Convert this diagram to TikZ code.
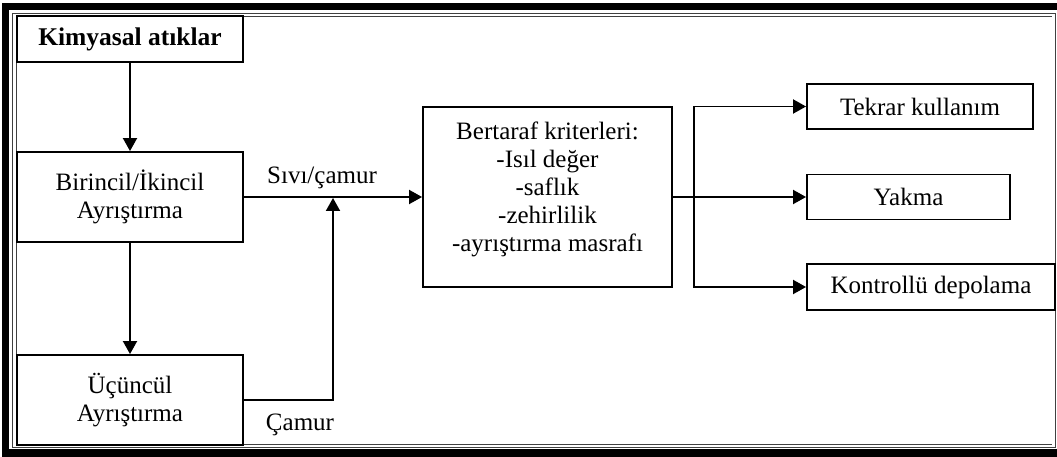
\documentclass[tikz,border=0pt]{standalone}
\usepackage{fontspec}
\setmainfont{Liberation Serif}
\usetikzlibrary{arrows.meta}
\begin{document}
\begin{tikzpicture}[x=1pt,y=-1pt,
  txt/.style={font=\fontsize{25}{28}\selectfont, inner sep=0pt},
  box/.style={txt, draw, line width=1.9pt, align=center},
  arr/.style={line width=1.9pt, -{Triangle[length=13pt,width=14pt]}},
  ln/.style={line width=1.9pt}]
\useasboundingbox (0,0) rectangle (1057,457);

% page frame: heavy outer band and thin inner rules
\fill (2,3) rectangle (9,457);
\fill (2,3) rectangle (1057,10);
\fill (2,449) rectangle (1057,457);
\draw[line width=1.2pt, black!75] (12.5,13.5) rectangle (1055.5,447.5);
\draw[line width=1pt, black!75] (1052,16.5) -- (16,16.5) -- (16,444.5) -- (1052,444.5);

% process boxes
\node[box, minimum width=226pt, minimum height=46pt, font=\fontsize{25.5}{28}\selectfont\bfseries] (kim) at (130,39) {Kimyasal atıklar};
\node[box, minimum width=226pt, minimum height=90pt] (bir) at (130,197) {Birincil/İkincil\\Ayrıştırma};
\node[box, minimum width=226pt, minimum height=90pt] (ucu) at (130,400) {Üçüncül\\Ayrıştırma};
\node[box, minimum width=249pt, minimum height=180pt] (ber) at (547.5,197) {};
\node[txt, align=center] (bertxt) at (547.5,189) {Bertaraf kriterleri:\\-Isıl değer\\-saflık\\-zehirlilik\\-ayrıştırma masrafı};
\node[box, minimum width=226pt, minimum height=45pt] (tek) at (920,106.5) {Tekrar kullanım};
\node[box, minimum width=203pt, minimum height=45pt] (yak) at (908.5,197) {Yakma};
\node[box, minimum width=248pt, minimum height=46pt] (kon) at (931,287) {Kontrollü depolama};

% labels on the flows
\node[txt] (siv) at (322,178) {Sıvı/çamur};
\node[txt] (cam) at (300,425) {Çamur};

% junction points
\coordinate (join) at (333,197);
\coordinate (bus) at (694,197);

% connectors
\draw[arr] (kim.south) -- (bir.north);
\draw[arr] (bir.south) -- (ucu.north);
\draw[arr] (bir.east) -- (ber.west);
\draw[arr, shorten >=1pt] (ucu.east) -| (join);
\draw[arr] (ber.east) -- (yak.west);
\draw[arr] (bus) |- (tek.west);
\draw[arr] (bus) |- (kon.west);
\end{tikzpicture}
\end{document}
